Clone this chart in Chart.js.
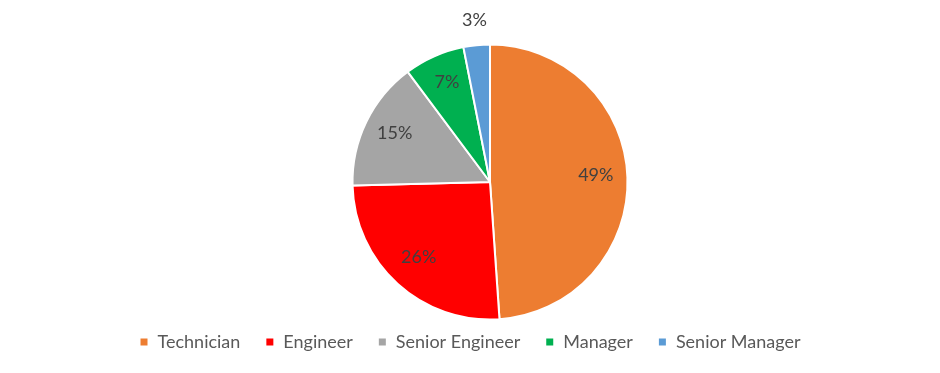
<!DOCTYPE html>
<html>
<head>
<meta charset="utf-8">
<script src="https://cdn.jsdelivr.net/npm/chart.js@4.4.0/dist/chart.umd.min.js"></script>
<style>
  html, body { margin: 0; padding: 0; background: #fff; }
  #wrap { width: 940px; height: 373px; }
</style>
</head>
<body>
<div id="wrap"><canvas id="roleChart"></canvas></div>
<script>
const roles = ['Technician', 'Engineer', 'Senior Engineer', 'Manager', 'Senior Manager'];
const shares = [48.9, 25.7, 15.2, 7.1, 3.1]; // percent of staff
const sliceColors = ['#ED7D31', '#FF0000', '#A5A5A5', '#00B050', '#5B9BD5'];

const FONT = 'Lato, "Open Sans", sans-serif';

// draws the % labels inside the slices (small ones go outside)
const pctLabels = {
    id: 'pctLabels',
    afterDatasetsDraw(chart) {
        const ctx = chart.ctx;
        const meta = chart.getDatasetMeta(0);
        ctx.save();
        ctx.font = '18px ' + FONT;
        ctx.fillStyle = '#404040';
        ctx.textAlign = 'center';
        ctx.textBaseline = 'middle';
        meta.data.forEach((arc, i) => {
            const mid = (arc.startAngle + arc.endAngle) / 2;
            const small = shares[i] < 5;
            const r = small ? arc.outerRadius + 22 : arc.outerRadius * 0.77;
            const x = arc.x + Math.cos(mid) * r;
            const y = arc.y + Math.sin(mid) * r - 3;
            ctx.fillText(Math.round(shares[i]) + '%', x, y);
        });
        ctx.restore();
    }
};

// pie sits a bit right of the legend centre and a little above the legend
const nudgePie = {
    id: 'nudgePie',
    afterLayout(chart) {
        const a = chart.chartArea;
        a.left += 20;
        a.right += 20;
        a.top = 43.5;
        a.bottom = 320.5;
        a.height = a.bottom - a.top;
    }
};

const ctx = document.getElementById('roleChart').getContext('2d');

new Chart(ctx, {
    type: 'pie',
    data: {
        labels: roles,
        datasets: [{
            data: shares,
            backgroundColor: sliceColors,
            borderColor: '#ffffff',
            borderWidth: 2
        }]
    },
    options: {
        responsive: true,
        maintainAspectRatio: false,
        animation: false,
        layout: {
            padding: { top: 42, bottom: 12 }
        },
        plugins: {
            legend: {
                position: 'bottom',
                labels: {
                    boxWidth: 9,
                    boxHeight: 9,
                    padding: 25,
                    color: '#595959',
                    font: { family: FONT, size: 18 }
                }
            },
            tooltip: { enabled: false }
        }
    },
    plugins: [pctLabels, nudgePie]
});
</script>
</body>
</html>
